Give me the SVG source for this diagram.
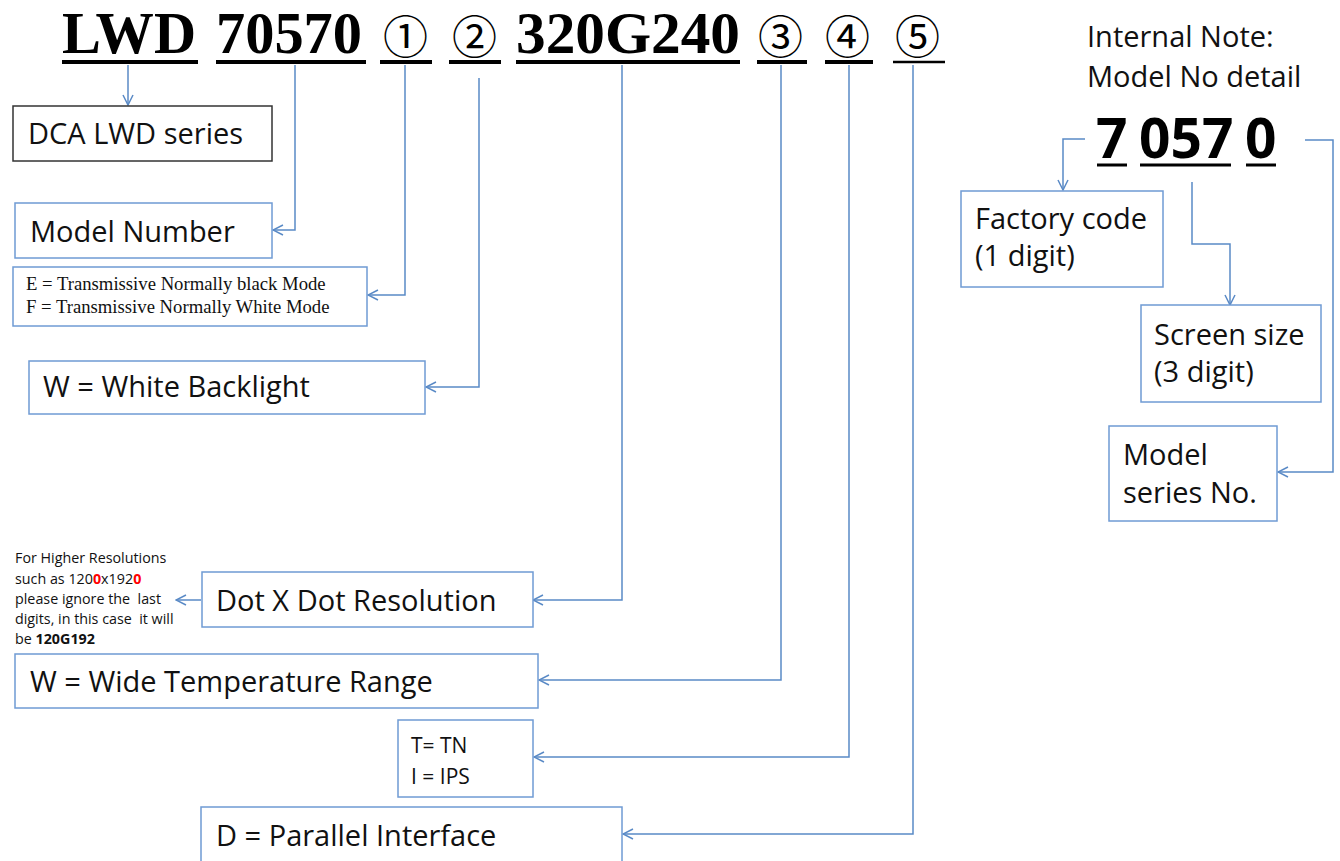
<svg xmlns="http://www.w3.org/2000/svg" width="1340" height="861" viewBox="0 0 1340 861">
<style>
.bg{fill:#ffffff}
.box{fill:#ffffff;stroke:#6F9BD4;stroke-width:1.5}
.boxk{fill:#ffffff;stroke:#333333;stroke-width:1.5}
.lbl{font-family:"Open Sans","Noto Sans",sans-serif;font-size:29px;fill:#111}
.sm{font-family:"Open Sans","Noto Sans",sans-serif;font-size:21px;fill:#111}
.note{font-family:"Open Sans","Noto Sans",sans-serif;font-size:14.3px;fill:#111}
.tm{font-family:"Liberation Serif","Times New Roman",serif;font-size:18.7px;fill:#111}
.title{font-family:"Liberation Serif","Times New Roman",serif;font-weight:bold;font-size:59px;fill:#000}
.circ{font-family:"Noto Sans CJK JP","DejaVu Sans",sans-serif;font-size:45px;fill:#000}
.big{font-family:"Open Sans","Noto Sans",sans-serif;font-weight:bold;font-size:55px;fill:#000}
.ul{stroke:#000;stroke-width:4}
.conn{fill:none;stroke:#5A8AC6;stroke-width:1.5;marker-end:url(#arr)}
</style>
<defs>
<marker id="arr" viewBox="0 0 12 12" refX="11" refY="6" markerWidth="12" markerHeight="12" markerUnits="userSpaceOnUse" orient="auto">
<path d="M1,1 L11,6 L1,11" fill="none" stroke="#5A8AC6" stroke-width="1.5"/>
</marker>
</defs>
<rect class="bg" x="0" y="0" width="1340" height="861"/>

<g id="title">
<text class="title" x="62" y="53" textLength="134" lengthAdjust="spacingAndGlyphs">LWD</text>
<text class="title" x="216" y="53" textLength="146" lengthAdjust="spacingAndGlyphs">70570</text>
<text class="circ" x="383" y="54">①</text>
<text class="circ" x="452" y="54">②</text>
<text class="title" x="516" y="53" textLength="224" lengthAdjust="spacingAndGlyphs">320G240</text>
<text class="circ" x="758" y="54">③</text>
<text class="circ" x="825" y="54">④</text>
<text class="circ" x="895" y="54">⑤</text>
<line class="ul" x1="62" y1="62" x2="198" y2="62"/>
<line class="ul" x1="216" y1="62" x2="366" y2="62"/>
<line class="ul" x1="380" y1="62" x2="432" y2="62"/>
<line class="ul" x1="449" y1="62" x2="501" y2="62"/>
<line class="ul" x1="516" y1="62" x2="740" y2="62"/>
<line class="ul" x1="757" y1="62" x2="807" y2="62"/>
<line class="ul" x1="825" y1="62" x2="873" y2="62"/>
<line x1="893" y1="62" x2="945" y2="62" stroke="#000" stroke-width="2.5"/>
</g>

<g id="connectors">
<path class="conn" d="M128,65 V105"/>
<path class="conn" d="M295,65 V230 H273"/>
<path class="conn" d="M405,65 V295 H368"/>
<path class="conn" d="M479,78 V387 H426"/>
<path class="conn" d="M622,65 V600 H533"/>
<path class="conn" d="M201,600 H176"/>
<path class="conn" d="M781,65 V680 H539"/>
<path class="conn" d="M849,65 V757 H534"/>
<path class="conn" d="M913,65 V834 H623"/>
<path class="conn" d="M1085,139 H1063 V190"/>
<path class="conn" d="M1192,182 V244 H1230 V305"/>
<path class="conn" d="M1305,140 H1333 V472 H1278"/>
</g>

<g id="dca">
<rect class="boxk" x="13" y="106" width="259" height="55"/>
<text class="lbl" x="28" y="144">DCA LWD series</text>
</g>
<g id="model-number">
<rect class="box" x="15" y="203" width="257" height="55"/>
<text class="lbl" x="30" y="242">Model Number</text>
</g>
<g id="mode">
<rect class="box" x="13" y="267" width="354" height="59"/>
<text class="tm" x="26" y="290">E = Transmissive Normally black Mode</text>
<text class="tm" x="26" y="313">F = Transmissive Normally White Mode</text>
</g>
<g id="backlight">
<rect class="box" x="29" y="361" width="396" height="53"/>
<text class="lbl" x="43" y="397">W = White Backlight</text>
</g>
<g id="note">
<text class="note" x="15" y="563">For Higher Resolutions</text>
<text class="note" x="15" y="584">such as 120<tspan fill="#FF0000" font-weight="bold">0</tspan>x192<tspan fill="#FF0000" font-weight="bold">0</tspan></text>
<text class="note" x="15" y="604" xml:space="preserve">please ignore the  last</text>
<text class="note" x="15" y="624" xml:space="preserve">digits, in this case  it will</text>
<text class="note" x="15" y="644">be <tspan font-weight="bold">120G192</tspan></text>
</g>
<g id="resolution">
<rect class="box" x="202" y="572" width="331" height="55"/>
<text class="lbl" x="216" y="611">Dot X Dot Resolution</text>
</g>
<g id="temperature">
<rect class="box" x="15" y="654" width="523" height="54"/>
<text class="lbl" x="30" y="692">W = Wide Temperature Range</text>
</g>
<g id="tn-ips">
<rect class="box" x="398" y="720" width="135" height="77"/>
<text class="sm" x="411" y="753">T= TN</text>
<text class="sm" x="411" y="784">I = IPS</text>
</g>
<g id="interface">
<rect class="box" x="201" y="807" width="421" height="70"/>
<text class="lbl" x="216" y="846">D = Parallel Interface</text>
</g>

<g id="internal-note">
<text class="lbl" x="1087" y="47">Internal Note:</text>
<text class="lbl" x="1087" y="87">Model No detail</text>
</g>
<g id="model-detail">
<text class="big" x="1096" y="158">7</text>
<text class="big" x="1139" y="158">057</text>
<text class="big" x="1245" y="158">0</text>
<line x1="1097" y1="165" x2="1127" y2="165" stroke="#000" stroke-width="3"/>
<line x1="1140" y1="165" x2="1231" y2="165" stroke="#000" stroke-width="3"/>
<line x1="1246" y1="165" x2="1276" y2="165" stroke="#000" stroke-width="3"/>
</g>
<g id="factory">
<rect class="box" x="961" y="191" width="202" height="96"/>
<text class="lbl" x="975" y="229">Factory code</text>
<text class="lbl" x="975" y="266">(1 digit)</text>
</g>
<g id="screen">
<rect class="box" x="1141" y="305" width="180" height="97"/>
<text class="lbl" x="1154" y="345">Screen size</text>
<text class="lbl" x="1154" y="382">(3 digit)</text>
</g>
<g id="series">
<rect class="box" x="1109" y="426" width="168" height="95"/>
<text class="lbl" x="1123" y="465">Model</text>
<text class="lbl" x="1123" y="503">series No.</text>
</g>
</svg>
